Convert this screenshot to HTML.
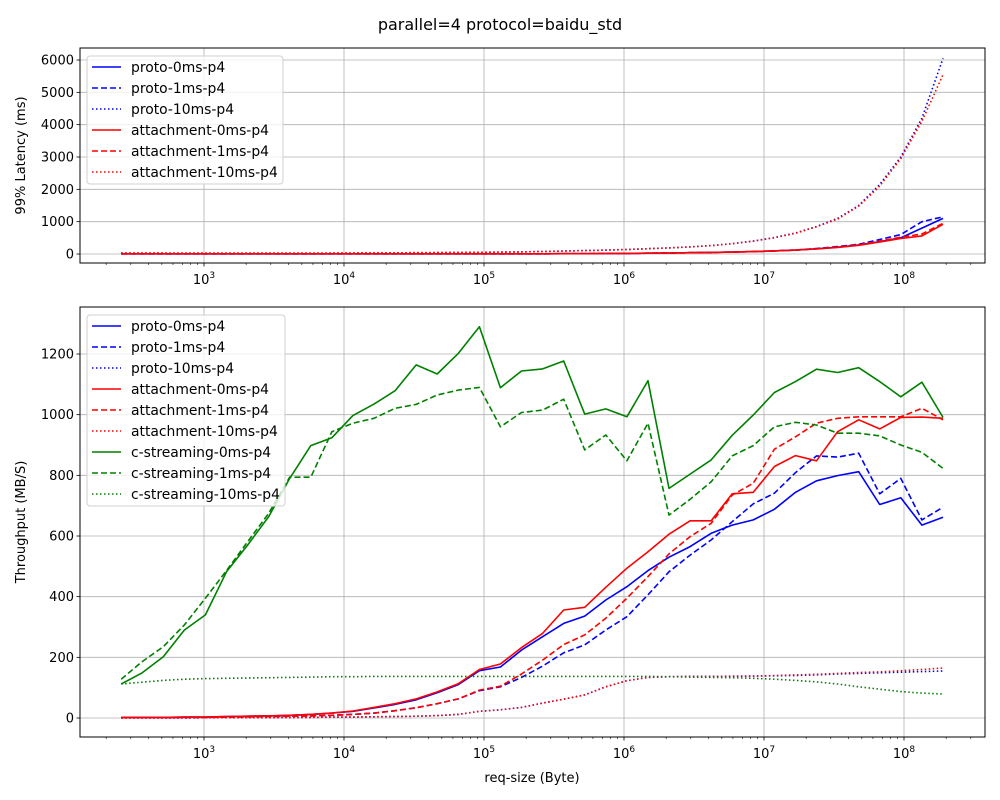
<!DOCTYPE html>
<html><head><meta charset="utf-8"><style>
body{margin:0;background:#fff;}
svg{display:block;font-family:"DejaVu Sans","Liberation Sans",sans-serif;}
</style></head><body>
<svg id="fig" width="1000" height="800" viewBox="0 0 1000 800"></svg>
<script>
// ---- data ----
const sizeExp = Array.from({length:40},(_,i)=>i); // size = 256 * 2^(i/2)
const latProto0  = [5,5,5,5,5,5,5,5,5,5,5,5,5,5,5,5,5,5,5,5,6,8,10,15,20,25,30,40,50,60,75,95,120,160,210,280,380,500,800,1100];
const latProto1  = [5,5,5,5,5,5,5,5,5,5,5,5,5,5,5,5,5,5,5,5,6,8,10,15,20,25,30,40,50,60,75,95,125,170,230,300,450,600,1000,1150];
const latProto10 = [30,30,28,26,25,25,25,25,25,25,27,30,33,36,40,44,48,52,58,66,78,92,104,120,140,165,190,220,260,320,400,510,650,850,1100,1500,2150,3000,4200,6050];
const latAtt0    = [5,5,5,5,5,5,5,5,5,5,5,5,5,5,5,5,5,5,5,5,6,8,10,15,20,25,30,40,50,60,75,95,120,155,205,270,370,480,560,920];
const latAtt1    = [5,5,5,5,5,5,5,5,5,5,5,5,5,5,5,5,5,5,5,5,6,8,10,15,20,25,30,40,50,60,75,95,122,160,215,285,400,520,620,950];
const latAtt10   = [30,30,28,26,25,25,25,25,25,25,27,30,33,36,40,44,48,52,58,66,78,92,104,120,140,165,190,220,260,320,400,500,640,840,1080,1480,2100,2950,4100,5550];

const tpProto0  = [2,2,2,3,3,5,6,7,9,12,16,22,33,45,60,83,110,156,168,224,268,312,336,389,433,486,530,565,609,636,653,688,744,782,799,812,704,726,636,662];
const tpProto1  = [1,1,1,2,2,3,4,5,6,7,9,12,16,24,34,47,63,90,103,134,171,215,241,290,334,406,482,537,587,647,706,741,809,864,860,873,739,790,653,695];
const tpProto10 = [0,0,0,0,1,1,1,1,2,2,3,3,4,5,6,8,12,22,27,35,49,62,76,103,123,134,136,137,137,137,138,139,140,142,145,147,149,151,153,155];
const tpAtt0    = [2,2,2,3,3,5,6,7,9,12,16,23,35,47,63,86,113,160,178,232,279,356,365,431,494,548,606,650,650,739,744,829,865,848,944,983,953,991,992,988];
const tpAtt1    = [1,1,1,2,2,3,4,5,6,7,9,12,16,24,34,47,63,92,105,145,191,242,274,329,395,466,541,598,642,735,774,886,927,972,988,993,993,993,1021,983];
const tpAtt10   = [0,0,0,0,1,1,1,1,2,2,3,3,4,5,6,8,12,22,27,35,49,62,76,103,123,134,136,137,137,138,138,140,142,144,147,150,152,156,160,165];
const tpCs0     = [112,149,202,290,340,482,570,664,790,898,924,997,1035,1079,1164,1134,1202,1290,1089,1144,1151,1177,1002,1019,993,1112,757,804,851,932,999,1073,1109,1150,1139,1155,1109,1059,1107,991];
const tpCs1     = [128,186,235,307,395,486,581,675,794,794,944,972,988,1021,1034,1065,1081,1090,960,1007,1015,1051,884,933,848,972,669,721,779,864,898,960,975,966,939,939,930,900,876,823];
const tpCs10    = [112,118,124,128,130,131,132,133,134,135,136,136,137,137,137,137,137,137,137,137,137,137,137,137,137,137,136,135,134,133,131,128,124,119,112,103,95,87,82,79];

const topTicks = [0,1000,2000,3000,4000,5000,6000];
const botTicks = [0,200,400,600,800,1000,1200];
const xDecades = [3,4,5,6,7,8];

// ---- layout ----
const NS="http://www.w3.org/2000/svg";
const svg=document.getElementById('fig');
const XL=80, XR=985;
const LOGMIN=2.1143, LOGMAX=8.5786;
function xs(logv){return XL+(logv-LOGMIN)/(LOGMAX-LOGMIN)*(XR-XL);}
function xi(i){return xs(Math.log10(256)+sizeExp[i]*Math.log10(2)/2);}
function mk(tag,attrs,parent){const e=document.createElementNS(NS,tag);for(const k in attrs)e.setAttribute(k,attrs[k]);(parent||svg).appendChild(e);return e;}

const axesDefs=[
 {top:48,bot:263,y:v=>254-v*0.032333,ticks:topTicks,ylabel:'99% Latency (ms)',name:'latency',
  series:[['proto-0ms-p4',latProto0,'blue',''],['proto-1ms-p4',latProto1,'blue','6,3'],['proto-10ms-p4',latProto10,'blue','1.5,2.5'],
          ['attachment-0ms-p4',latAtt0,'red',''],['attachment-1ms-p4',latAtt1,'red','6,3'],['attachment-10ms-p4',latAtt10,'red','1.5,2.5']],
  legend:{x:87,y:56,w:196}},
 {top:307,bot:737,y:v=>718-v*0.30333,ticks:botTicks,ylabel:'Throughput (MB/S)',name:'throughput',
  series:[['proto-0ms-p4',tpProto0,'blue',''],['proto-1ms-p4',tpProto1,'blue','6,3'],['proto-10ms-p4',tpProto10,'blue','1.5,2.5'],
          ['attachment-0ms-p4',tpAtt0,'red',''],['attachment-1ms-p4',tpAtt1,'red','6,3'],['attachment-10ms-p4',tpAtt10,'red','1.5,2.5'],
          ['c-streaming-0ms-p4',tpCs0,'green',''],['c-streaming-1ms-p4',tpCs1,'green','6,3'],['c-streaming-10ms-p4',tpCs10,'green','1.5,2.5']],
  legend:{x:87,y:315,w:198}}
];

const t=mk('text',{x:500,y:30,'text-anchor':'middle','font-size':'16'});t.textContent='parallel=4 protocol=baidu_std';



axesDefs.forEach(ax=>{
  const g=mk('g',{});
  
  
  xDecades.forEach(d=>{const x=xs(d);
    mk('line',{x1:x,x2:x,y1:ax.top,y2:ax.bot,stroke:'#b0b0b0','stroke-width':0.8},g);
    mk('line',{x1:x,x2:x,y1:ax.bot,y2:ax.bot+3.5,stroke:'#000','stroke-width':0.8},g);
    const tx=mk('text',{x:x,y:ax.bot+21,'text-anchor':'middle','font-size':'13'},g);
    
    
    tx.innerHTML='10<tspan dy="-6" font-size="9">'+d+'</tspan>';
  });
  for(let d=2;d<=8;d++)for(let m=2;m<=9;m++){const lv=d+Math.log10(m);if(lv<LOGMIN||lv>LOGMAX)continue;const x=xs(lv);
    mk('line',{x1:x,x2:x,y1:ax.bot,y2:ax.bot+2,stroke:'#000','stroke-width':0.6},g);}
  ax.ticks.forEach(v=>{const y=ax.y(v);
    mk('line',{x1:XL,x2:XR,y1:y,y2:y,stroke:'#b0b0b0','stroke-width':0.8},g);
    mk('line',{x1:XL-3.5,x2:XL,y1:y,y2:y,stroke:'#000','stroke-width':0.8},g);
    const tl=mk('text',{x:XL-6,y:y+4.5,'text-anchor':'end','font-size':'13'},g);tl.textContent=v;
    
    
  });
  const yl=mk('text',{x:0,y:0,'text-anchor':'middle','font-size':'13',transform:`translate(25,${(ax.top+ax.bot)/2}) rotate(-90)`},g);
  yl.textContent=ax.ylabel;
  
  
  ax.series.forEach(s=>{
    const pts=s[1].map((v,i)=>xi(i).toFixed(1)+','+ax.y(v).toFixed(1)).join(' ');
    const p=mk('polyline',{points:pts,fill:'none',stroke:s[2],'stroke-width':1.6,'stroke-dasharray':s[3]||'none','stroke-linejoin':'round'},g);
    
    
  });
  mk('rect',{x:XL,y:ax.top,width:XR-XL,height:ax.bot-ax.top,fill:'none',stroke:'#000','stroke-width':1},g);
  const L=ax.legend, n=ax.series.length;
  const lg=mk('g',{});
  
  
  mk('rect',{x:L.x,y:L.y,width:L.w,height:n*21+2,rx:3,fill:'rgba(255,255,255,0.8)',stroke:'#d0d0d0'},lg);
  ax.series.forEach((s,k)=>{const y=L.y+11+k*21;
    const e=mk('g',{},lg);
    
    
    mk('line',{x1:L.x+5,x2:L.x+34,y1:y,y2:y,stroke:s[2],'stroke-width':1.6,'stroke-dasharray':s[3]||'none'},e);
    const tt=mk('text',{x:L.x+44,y:y+5,'font-size':'13.9'},e);tt.textContent=s[0];
  });
});
const xl=mk('text',{x:532,y:782,'text-anchor':'middle','font-size':'13'});xl.textContent='req-size (Byte)';


</script>
</body></html>
